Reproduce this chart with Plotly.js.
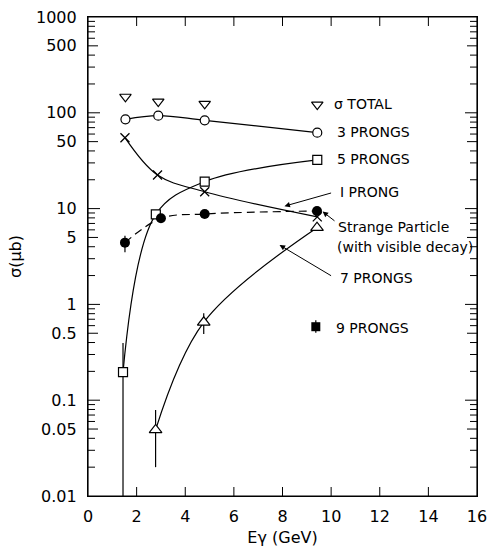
<!DOCTYPE html>
<html>
<head>
<meta charset="utf-8">
<script src="https://cdn.plot.ly/plotly-3.0.1.min.js"></script>
<style>html,body{margin:0;padding:0;background:#fff;overflow:hidden;}#chart{width:488px;height:553px;}.modebar,.modebar-container{display:none !important;}</style>
</head>
<body>
<div id="chart"></div>
<script>
// ---- data (Eγ in GeV, σ in μb) ----
const xTotal = [1.54, 2.89, 4.8, 9.43];
const sigmaTotal = [147, 131, 124, 122];

const x3 = [1.54, 2.89, 4.8, 9.43];
const sigma3 = [85.5, 93.3, 83.5, 62.0];

const x5 = [1.44, 2.79, 4.8, 9.43];
const sigma5 = [0.196, 8.72, 19.1, 32.2];
const sigma5Plus = [0.2, 0, 0, 0];
const sigma5Minus = [0.196, 0, 0, 0];

const x1 = [1.52, 2.86, 4.8, 9.43];
const sigma1 = [55.0, 22.4, 15.0, 8.2];

const xStrange = [1.52, 3.0, 4.8, 9.42];
const sigmaStrange = [4.41, 7.92, 8.79, 9.44];
const sigmaStrangePlus = [0.8, 0, 0, 0];
const sigmaStrangeMinus = [0.9, 0, 0, 0];

const x7 = [2.78, 4.76, 9.42];
const sigma7 = [0.049, 0.65, 6.32];
const sigma7Plus = [0.03, 0.16, 0];
const sigma7Minus = [0.029, 0.16, 0];

const x9 = [9.37];
const sigma9 = [0.585];
const sigma9Plus = [0.1];
const sigma9Minus = [0.08];

const xRange = [0, 16];
const yRange = [0.01, 1000];
const xTickVals = [0, 2, 4, 6, 8, 10, 12, 14, 16];
const xTickText = ['0', '2', '4', '6', '8', '10', '12', '14', '16'];
const yTickVals = [0.01, 0.05, 0.1, 0.5, 1, 5, 10, 50, 100, 500, 1000];
const yTickText = ['0.01', '0.05', '0.1', '0.5', '1', '5', '10', '50', '100', '500', '1000'];
const decades = [0.01, 0.1, 1, 10, 100];
const minorMult = [2, 3, 4, 6, 7, 8, 9];

// ---- build ----
const W = 488, H = 553, M = {l: 88, r: 11, t: 17, b: 57};
const plotW = W - M.l - M.r, plotH = H - M.t - M.b;
const L = Math.log10;
const FONT = 'DejaVu Sans, Arial, sans-serif';
const LW = 1.2;

const minorVals = [];
decades.forEach(d => minorMult.forEach(m => minorVals.push(+(d * m).toPrecision(3))));

function errY(plus, minus) {
  return {type: 'data', array: plus, arrayminus: minus, visible: true,
          color: 'black', thickness: LW, width: 0};
}

const traces = [
  {x: xTotal, y: sigmaTotal, mode: 'markers', name: 'σ TOTAL',
   marker: {symbol: 'triangle-down', size: 10, color: 'white', line: {color: 'black', width: LW}}},
  {x: x3, y: sigma3, mode: 'lines+markers', name: '3 PRONGS',
   line: {color: 'black', width: LW, shape: 'spline'},
   marker: {symbol: 'circle', size: 9, color: 'white', line: {color: 'black', width: LW}}},
  {x: x5, y: sigma5, mode: 'lines+markers', name: '5 PRONGS',
   line: {color: 'black', width: LW, shape: 'spline'},
   error_y: errY(sigma5Plus, sigma5Minus),
   marker: {symbol: 'square', size: 9, color: 'white', line: {color: 'black', width: LW}}},
  {x: x1, y: sigma1, mode: 'lines+markers', name: '1 PRONG',
   line: {color: 'black', width: LW, shape: 'spline'},
   marker: {symbol: 'x-thin', size: 9, color: 'black', line: {color: 'black', width: 1.3}}},
  {x: xStrange, y: sigmaStrange, mode: 'lines+markers', name: 'Strange Particle',
   line: {color: 'black', width: LW, shape: 'spline', dash: '8px,5px'},
   error_y: errY(sigmaStrangePlus, sigmaStrangeMinus),
   marker: {symbol: 'circle', size: 10, color: 'black'}},
  {x: x7, y: sigma7, mode: 'lines+markers', name: '7 PRONGS',
   line: {color: 'black', width: LW, shape: 'spline'},
   error_y: errY(sigma7Plus, sigma7Minus),
   marker: {symbol: 'triangle-up', size: 11, color: 'white', line: {color: 'black', width: LW}}},
  {x: x9, y: sigma9, mode: 'markers', name: '9 PRONGS',
   error_y: errY(sigma9Plus, sigma9Minus),
   marker: {symbol: 'square', size: 9, color: 'black'}}
];

function label(text, x, y) {
  return {text: text, x: x, y: L(y), xref: 'x', yref: 'y', xanchor: 'left', yanchor: 'middle',
          showarrow: false, font: {family: FONT, size: 14, color: 'black'}};
}
function arrow(hx, hy, tx, ty) {
  return {text: '', x: hx, y: L(hy), ax: tx, ay: L(ty), xref: 'x', yref: 'y', axref: 'x', ayref: 'y',
          showarrow: true, arrowhead: 2, arrowsize: 1.1, arrowwidth: 1, arrowcolor: 'black'};
}

const annotations = [
  label('σ TOTAL', 10.05, 123),
  label('3 PRONGS', 10.15, 62.3),
  label('5 PRONGS', 10.15, 32.6),
  label('I PRONG', 10.3, 15.0),
  label('Strange Particle', 10.2, 6.47),
  label('(with visible decay)', 10.15, 4.0),
  label('7 PRONGS', 10.3, 1.87),
  label('9 PRONGS', 10.13, 0.571),
  arrow(8.08, 10.6, 10.06, 14.7),
  arrow(9.65, 9.3, 10.2, 7.25),
  arrow(7.88, 4.17, 10.06, 1.95)
];

// frame and inside tick marks as paper-referenced shapes (positions from the tick values)
const xFrac = v => (v - xRange[0]) / (xRange[1] - xRange[0]);
const yFrac = v => (L(v) - L(yRange[0])) / (L(yRange[1]) - L(yRange[0]));
const tickLine = {color: 'black', width: 1};
const shapes = [
  {type: 'rect', xref: 'paper', yref: 'paper', x0: 0, x1: 1, y0: 0, y1: 1,
   line: {color: 'black', width: LW}}
];
xTickVals.slice(1, -1).forEach(v => {
  const f = xFrac(v), d = 9 / plotH;
  shapes.push({type: 'line', xref: 'paper', yref: 'paper', x0: f, x1: f, y0: 0, y1: d, line: tickLine});
  shapes.push({type: 'line', xref: 'paper', yref: 'paper', x0: f, x1: f, y0: 1, y1: 1 - d, line: tickLine});
});
function addYTick(v, lenPx) {
  const f = yFrac(v), d = lenPx / plotW;
  shapes.push({type: 'line', xref: 'paper', yref: 'paper', x0: 0, x1: d, y0: f, y1: f, line: tickLine});
  shapes.push({type: 'line', xref: 'paper', yref: 'paper', x0: 1, x1: 1 - d, y0: f, y1: f, line: tickLine});
}
yTickVals.slice(1, -1).forEach(v => addYTick(v, [0.1, 1, 10, 100].includes(v) ? 12 : 10));
minorVals.forEach(v => addYTick(v, 7));

const layout = {
  width: W, height: H,
  margin: {l: M.l, r: M.r, t: M.t, b: M.b, pad: 0},
  paper_bgcolor: 'white', plot_bgcolor: 'white',
  showlegend: false,
  font: {family: FONT, size: 16, color: 'black'},
  xaxis: {
    range: xRange, tickmode: 'array', tickvals: xTickVals, ticktext: xTickText,
    ticks: '', showline: true, linecolor: 'black', linewidth: LW, mirror: true,
    showgrid: false, zeroline: false, ticklabelstandoff: 6,
    tickfont: {family: FONT, size: 16},
    title: {text: 'Eγ (GeV)', font: {family: FONT, size: 16}, standoff: 6}
  },
  yaxis: {
    type: 'log', range: [L(yRange[0]), L(yRange[1])], tickmode: 'array', tickvals: yTickVals, ticktext: yTickText,
    ticks: '', showline: true, linecolor: 'black', linewidth: LW, mirror: true,
    showgrid: false, zeroline: false, ticklabelstandoff: 7,
    tickfont: {family: FONT, size: 16},
    title: {text: 'σ(μb)', font: {family: FONT, size: 16}, standoff: 10}
  },
  shapes: shapes,
  annotations: annotations
};

Plotly.newPlot('chart', traces, layout);
</script>
</body>
</html>
